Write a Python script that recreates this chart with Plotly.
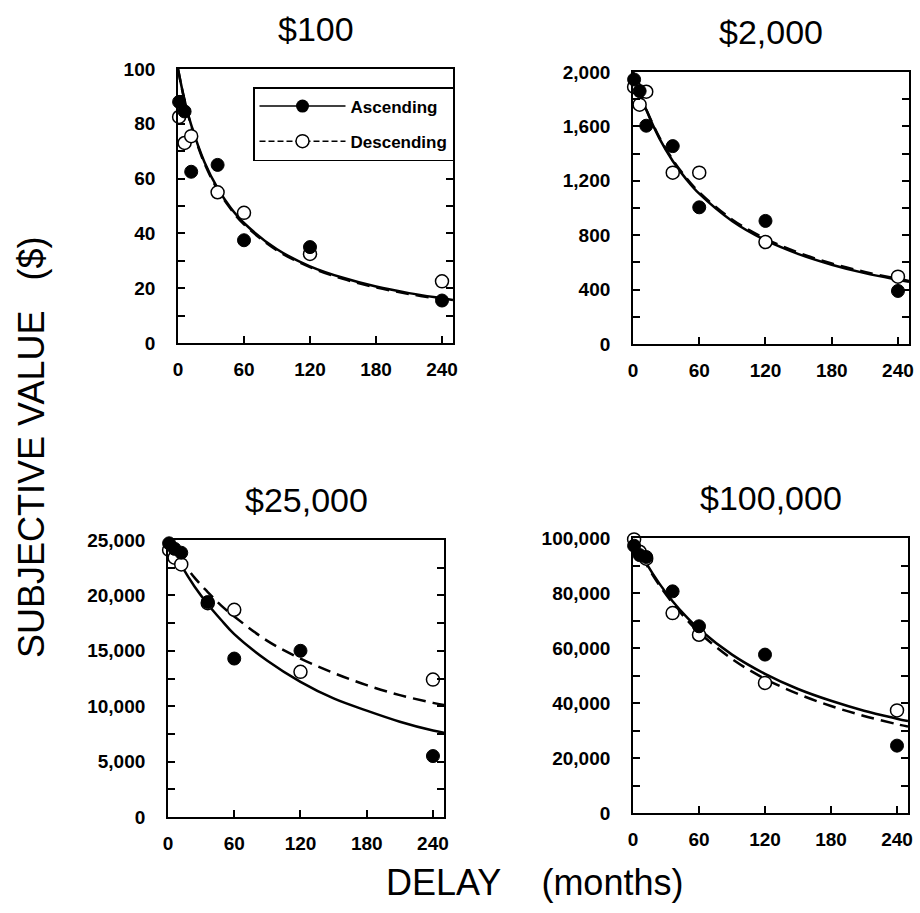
import plotly.graph_objects as go

# ---------------- data ----------------
delays = [1, 6, 12, 36, 60, 120, 240]
curve_delays = [0, 6, 12, 24, 36, 48, 60, 90, 120, 150, 180, 210, 240, 250]

p100_asc = [88, 84.5, 62.5, 65, 37.5, 35, 15.5]
p100_desc = [82.5, 73, 75.5, 55, 47.5, 32.5, 22.5]
c100_asc = [100, 88.6, 79.6, 66.1, 56.5, 49.3, 43.8, 34.2, 28.0, 23.8, 20.6, 18.2, 16.3, 15.7]
c100_desc = [100, 88.4, 79.3, 65.6, 56.0, 48.9, 43.3, 33.8, 27.7, 23.4, 20.3, 17.9, 16.0, 15.5]

p2000_asc = [1945, 1860, 1605, 1455, 1005, 905, 390]
p2000_desc = [1890, 1760, 1855, 1260, 1260, 750, 495]
c2000_asc = [2000, 1850, 1722, 1510, 1346, 1214, 1105, 903, 763, 661, 583, 521, 472, 457]
c2000_desc = [2000, 1854, 1726, 1518, 1355, 1224, 1116, 914, 774, 671, 592, 530, 479, 464]

p25000_asc = [24700, 24200, 23850, 19400, 14300, 15000, 5500]
p25000_desc = [24100, 23400, 22800, 19300, 18700, 13100, 12400]
c25000_asc = [25000, 23800, 22700, 20800, 19200, 17800, 16500, 14100, 12200, 10700, 9600, 8600, 7800, 7600]
c25000_desc = [25000, 24050, 23200, 21600, 20300, 19100, 18100, 15900, 14300, 13000, 11900, 11000, 10300, 10100]

p100000_asc = [97200, 93800, 93100, 80600, 67900, 57600, 24500]
p100000_desc = [99500, 95000, 92500, 72700, 64800, 47300, 37300]
c100000_asc = [100000, 95200, 90900, 83400, 77000, 71600, 66900, 57600, 50600, 45100, 40800, 37200, 34300, 33400]
c100000_desc = [100000, 95000, 90500, 82800, 76300, 70700, 65700, 56000, 48800, 43300, 38900, 35300, 32300, 31400]

panel_titles = ["$100", "$2,000", "$25,000", "$100,000"]
x_ticks = [0, 60, 120, 180, 240]
y_ranges = [100, 2000, 25000, 100000]
y_dticks = [20, 400, 5000, 20000]
y_minor = [10, 200, 2500, 10000]
legend_names = ["Ascending", "Descending"]

panels = [
    (p100_asc, p100_desc, c100_asc, c100_desc),
    (p2000_asc, p2000_desc, c2000_asc, c2000_desc),
    (p25000_asc, p25000_desc, c25000_asc, c25000_desc),
    (p100000_asc, p100000_desc, c100000_asc, c100000_desc),
]

# ---------------- layout geometry (paper fractions) ----------------
W, H = 920, 913
boxes = [  # left, right, top, bottom in px
    (178, 453, 69, 343),
    (633, 909, 72, 344),
    (168, 444, 540, 817),
    (633, 908, 538, 813),
]

FONT = "Liberation Sans, Arial, sans-serif"
fig = go.Figure()

for i, (pa, pd_, ca, cd) in enumerate(panels):
    ax = "" if i == 0 else str(i + 1)
    xr, yr = "x" + ax, "y" + ax
    fig.add_trace(go.Scatter(x=curve_delays, y=ca, mode="lines", line=dict(color="black", width=2.5, shape="spline"),
                             xaxis=xr, yaxis=yr, showlegend=False, hoverinfo="skip"))
    fig.add_trace(go.Scatter(x=curve_delays, y=cd, mode="lines",
                             line=dict(color="black", width=2.5, dash="13px,7px", shape="spline"),
                             xaxis=xr, yaxis=yr, showlegend=False, hoverinfo="skip"))
    fig.add_trace(go.Scatter(x=delays, y=pd_, mode="markers", cliponaxis=False,
                             marker=dict(symbol="circle", size=13, color="white", line=dict(color="black", width=1.5)),
                             xaxis=xr, yaxis=yr, showlegend=False))
    fig.add_trace(go.Scatter(x=delays, y=pa, mode="markers", cliponaxis=False,
                             marker=dict(symbol="circle", size=13, color="black", line=dict(color="black", width=1)),
                             xaxis=xr, yaxis=yr, showlegend=False))

    l, r, t, b = boxes[i]
    axis_common = dict(showline=True, linecolor="black", linewidth=1.8, showgrid=False, zeroline=False,
                       automargin=False,
                       tickfont=dict(family=FONT, size=19, color="black", weight="bold"))
    fig.layout["xaxis" + ax] = dict(
        axis_common, domain=[l / W, r / W], anchor=yr, range=[0, 250],
        tickvals=x_ticks, ticks="inside", ticklen=7, tickwidth=1.5, tickcolor="black",
        mirror=True, ticklabelstandoff=8,
    )
    fig.layout["yaxis" + ax] = dict(
        axis_common, domain=[1 - b / H, 1 - t / H], anchor=xr, range=[0, y_ranges[i]],
        dtick=y_dticks[i], tick0=0, tickformat=",d", ticks="inside", ticklen=7, tickwidth=1.5,
        tickcolor="black", mirror="ticks", ticklabelstandoff=17,
        minor=dict(dtick=y_minor[i], ticks="inside", ticklen=7, tickwidth=1.5, tickcolor="black"),
    )
    fig.add_annotation(text=panel_titles[i], xref="paper", yref="paper",
                       x=(l + r) / 2 / W, y=1 - (t - 40) / H, xanchor="center", yanchor="middle",
                       showarrow=False, font=dict(family=FONT, size=34, color="black"))

# legend entries (legend-only glyphs)
fig.add_trace(go.Scatter(x=[None], y=[None], mode="lines+markers", name=legend_names[0], legendgroup="a",
                         marker=dict(size=13, color="black"), line=dict(color="black", width=1.5)))
fig.add_trace(go.Scatter(x=[None], y=[None], mode="lines+markers", name=legend_names[1], legendgroup="d",
                         marker=dict(size=13, color="white", line=dict(color="black", width=1.5)),
                         line=dict(color="black", width=1.5, dash="6px,3px")))

fig.add_annotation(text="SUBJECTIVE VALUE\u00a0\u00a0\u00a0($)", xref="paper", yref="paper",
                   x=31 / W, y=1 - 448 / H, textangle=-90, showarrow=False,
                   font=dict(family=FONT, size=36, color="black"), xanchor="center", yanchor="middle")
fig.add_annotation(text="DELAY\u00a0\u00a0\u00a0\u00a0(months)", xref="paper", yref="paper",
                   x=534 / W, y=1 - 882 / H, showarrow=False,
                   font=dict(family=FONT, size=36, color="black"), xanchor="center", yanchor="middle")

fig.update_layout(
    width=W, height=H, margin=dict(l=0, r=0, t=0, b=0, autoexpand=False),
    paper_bgcolor="white", plot_bgcolor="white",
    showlegend=True,
    legend=dict(x=253 / W, y=1 - 87 / H, xanchor="left", yanchor="top",
                bgcolor="white", bordercolor="black", borderwidth=1.5,
                font=dict(family=FONT, size=17, color="black", weight="bold"),
                traceorder="grouped", tracegroupgap=10, itemwidth=86),
)

fig.write_html("out.html", config={"displayModeBar": False},
               post_script="document.body.style.margin='0';document.body.style.overflow='hidden';")
